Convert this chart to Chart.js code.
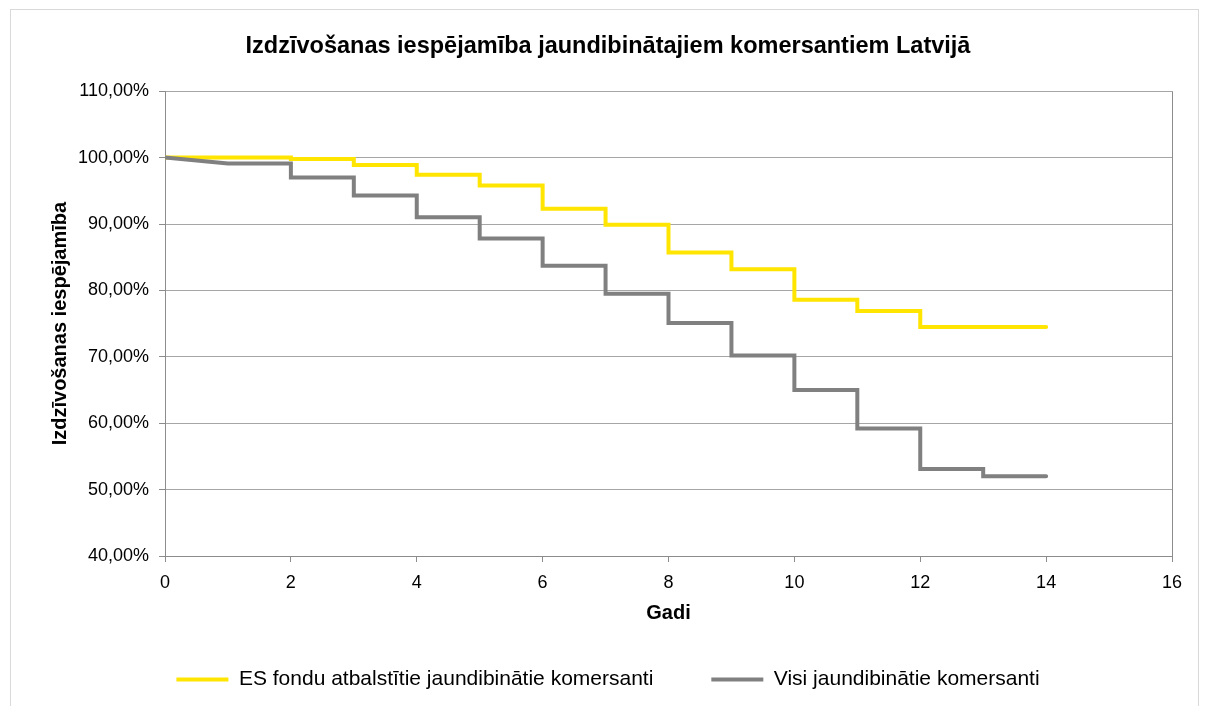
<!DOCTYPE html>
<html>
<head>
<meta charset="utf-8">
<script src="https://cdn.jsdelivr.net/npm/chart.js@4.4.1/dist/chart.umd.min.js"></script>
<style>
  html, body { margin: 0; padding: 0; background: #ffffff; }
  #wrap { width: 1206px; height: 706px; position: relative; }
</style>
</head>
<body>
<div id="wrap"><canvas id="c" width="1206" height="706"></canvas></div>
<script>
const chartTitle = 'Izdzīvošanas iespējamība jaundibinātajiem komersantiem Latvijā';
const xTitle = 'Gadi';
const yTitle = 'Izdzīvošanas iespējamība';
const seriesNames = ['ES fondu atbalstītie jaundibinātie komersanti', 'Visi jaundibinātie komersanti'];

// ES fondu atbalstītie (years, survival %)
const esX = [0,1,2,2,3,3,4,4,5,5,6,6,7,7,8,8,9,9,10,10,11,11,12,12,13,14];
const esY = [100,100,100,99.8,99.8,98.9,98.9,97.4,97.4,95.8,95.8,92.3,92.3,89.9,89.9,85.7,85.7,83.2,83.2,78.6,78.6,76.9,76.9,74.5,74.5,74.5];

// Visi jaundibinātie (years, survival %)
const allX = [0,1,2,2,3,3,4,4,5,5,6,6,7,7,8,8,9,9,10,10,11,11,12,12,13,13,14];
const allY = [100,99.1,99.1,97.0,97.0,94.3,94.3,91.0,91.0,87.8,87.8,83.7,83.7,79.5,79.5,75.1,75.1,70.2,70.2,65.0,65.0,59.2,59.2,53.1,53.1,52.0,52.0];

const xMin = 0, xMax = 16, xStep = 2;
const yMin = 40, yMax = 110, yStep = 10;

function toPoints(xs, ys) { return xs.map((x, i) => ({ x: x, y: ys[i] })); }

const FONT = "'Liberation Sans', Arial, sans-serif";
const AXIS_GRAY = '#8c8c8c';
const GRID_GRAY = '#a6a6a6';

const frame = {
  id: 'frame',
  beforeDraw(chart) {
    const ctx = chart.ctx;
    ctx.save();
    ctx.fillStyle = '#ffffff';
    ctx.fillRect(0, 0, chart.width, chart.height);
    ctx.strokeStyle = '#d9d9d9';
    ctx.lineWidth = 1;
    ctx.strokeRect(10.5, 9.5, 1188, 720);
    ctx.restore();
  }
};

new Chart(document.getElementById('c'), {
  type: 'scatter',
  data: {
    datasets: [
      {
        label: seriesNames[0],
        data: toPoints(esX, esY),
        showLine: true,
        borderColor: '#FFE500',
        backgroundColor: '#FFE500',
        borderWidth: 4,
        pointRadius: 0,
        borderJoinStyle: 'miter',
        borderCapStyle: 'round',
        order: 2
      },
      {
        label: seriesNames[1],
        data: toPoints(allX, allY),
        showLine: true,
        borderColor: '#808080',
        backgroundColor: '#808080',
        borderWidth: 4,
        pointRadius: 0,
        borderJoinStyle: 'miter',
        borderCapStyle: 'round',
        order: 1
      }
    ]
  },
  options: {
    responsive: false,
    animation: false,
    layout: { padding: { left: 44, right: 34, top: 0, bottom: 6 } },
    plugins: {
      tooltip: { enabled: false },
      title: {
        display: true,
        text: chartTitle,
        color: '#000000',
        font: { family: FONT, size: 23.5, weight: 'bold' },
        padding: { top: 32, bottom: 31 }
      },
      legend: {
        position: 'bottom',
        labels: {
          usePointStyle: true,
          pointStyle: 'line',
          pointStyleWidth: 52,
          padding: 58,
          color: '#000000',
          font: { family: FONT, size: 21 },
          sort: (a, b) => a.datasetIndex - b.datasetIndex
        }
      }
    },
    scales: {
      x: {
        type: 'linear',
        min: xMin, max: xMax,
        afterFit(scale) { scale.height = 55; },
        ticks: {
          stepSize: xStep,
          color: '#000000',
          font: { family: FONT, size: 18 },
          padding: 10,
          maxRotation: 0
        },
        grid: {
          drawOnChartArea: true,
          color: (c) => (c.tick && c.tick.value === xMax) ? AXIS_GRAY : 'rgba(0,0,0,0)',
          tickColor: AXIS_GRAY,
          tickLength: 6
        },
        border: { color: AXIS_GRAY, width: 1 },
        title: {
          display: true,
          text: xTitle,
          color: '#000000',
          font: { family: FONT, size: 20, weight: 'bold' },
          padding: { top: 0, bottom: -14 }
        }
      },
      y: {
        min: yMin, max: yMax,
        afterFit(scale) { scale.width = 121; },
        ticks: {
          stepSize: yStep,
          color: '#000000',
          font: { family: FONT, size: 18 },
          padding: 10,
          callback: (v) => v.toFixed(2).replace('.', ',') + '%'
        },
        grid: {
          color: GRID_GRAY,
          tickColor: AXIS_GRAY,
          tickLength: 6
        },
        border: { color: AXIS_GRAY, width: 1 },
        title: {
          display: true,
          text: yTitle,
          color: '#000000',
          font: { family: FONT, size: 20, weight: 'bold' },
          padding: { top: 4, bottom: 0 }
        }
      }
    }
  },
  plugins: [frame]
});
</script>
</body>
</html>
